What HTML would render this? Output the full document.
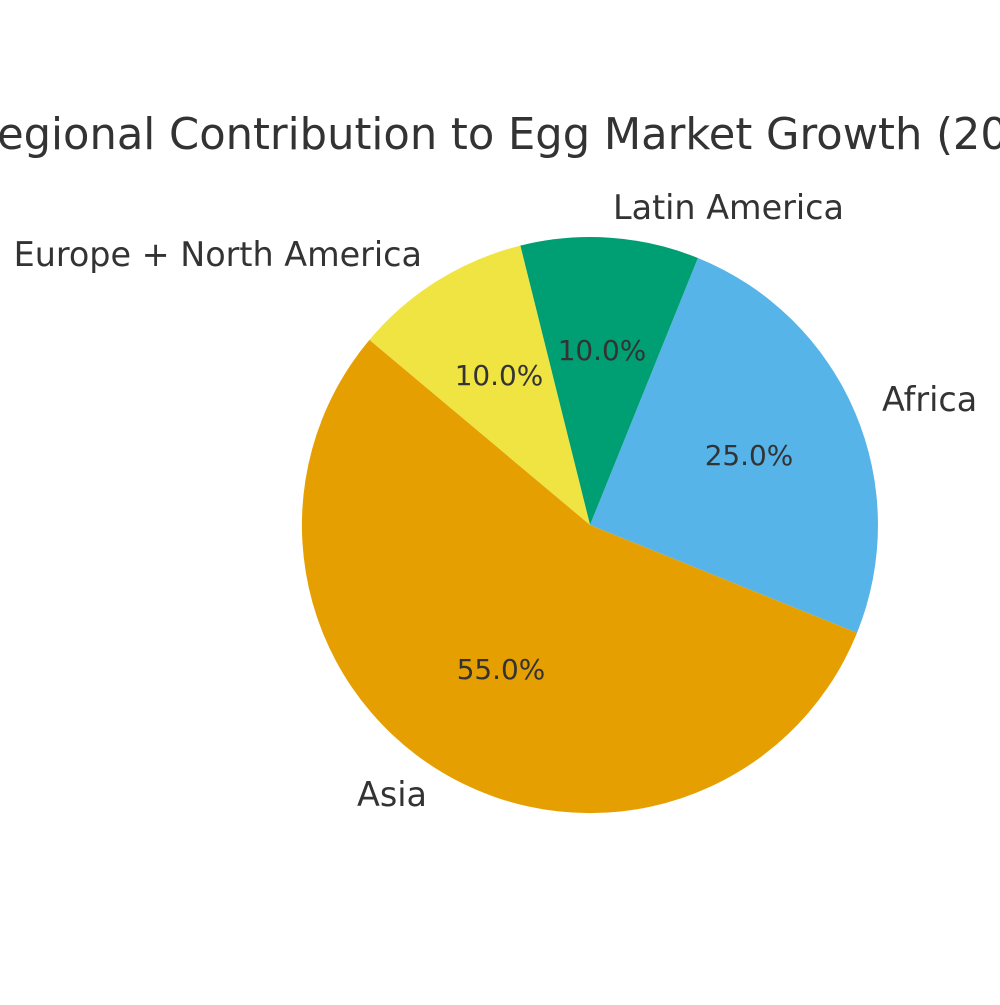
<!DOCTYPE html>
<html><head><meta charset="utf-8"><style>html,body{margin:0;padding:0;background:#fff;overflow:hidden}</style></head>
<body>
<svg width="1000" height="1000" viewBox="0 0 1000 1000" xmlns="http://www.w3.org/2000/svg" font-family="DejaVu Sans, Liberation Sans, sans-serif" fill="#333">
<rect width="1000" height="1000" fill="#fff"/>
<text x="-31" y="149" font-size="43.2" fill="#333">Regional Contribution to Egg Market Growth (2023-2030)</text>
<path d="M590,525 L857,632.9 A288,288 0 0 0 697.9,258 Z" fill="#56B4E9"/>
<path d="M590,525 L697.9,258 A288,288 0 0 0 520.3,245.6 Z" fill="#009E73"/>
<path d="M590,525 L520.3,245.6 A288,288 0 0 0 369.4,339.9 Z" fill="#F0E442"/>
<path d="M590,525 L369.4,339.9 A288,288 0 1 0 857,632.9 Z" fill="#E69F00"/>
<g font-size="27.9" text-anchor="middle" fill="#333">
<text x="749" y="465">25.0%</text>
<text x="602" y="360">10.0%</text>
<text x="499" y="385">10.0%</text>
<text x="501" y="679">55.0%</text>
</g>
<g font-size="33.4" fill="#333">
<text x="882" y="411">Africa</text>
<text x="613" y="219">Latin America</text>
<text x="422" y="266" text-anchor="end">Europe + North America</text>
<text x="427" y="806" text-anchor="end">Asia</text>
</g>
</svg>
</body></html>
